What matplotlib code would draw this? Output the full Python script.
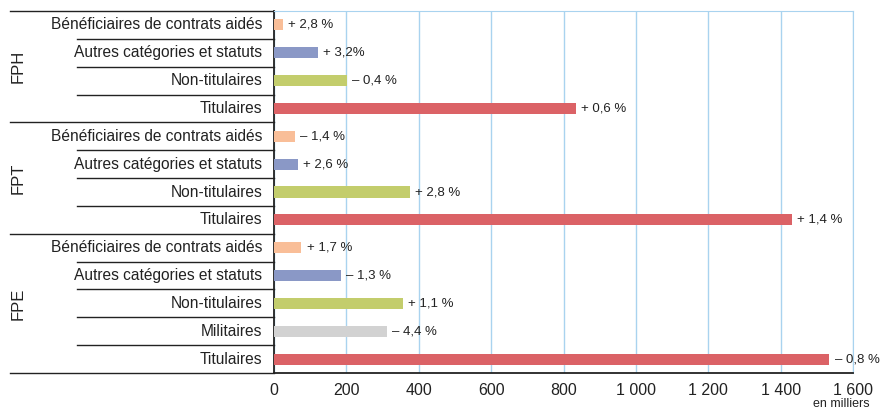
import matplotlib.pyplot as plt
import matplotlib.transforms as mtransforms

plt.rcParams['font.family'] = ['Liberation Sans Narrow', 'Liberation Sans', 'DejaVu Sans']

# data (en milliers), top to bottom
groups = ['FPH', 'FPT', 'FPE']
group_sizes = [4, 4, 5]
categories = ['Bénéficiaires de contrats aidés', 'Autres catégories et statuts', 'Non-titulaires', 'Titulaires',
              'Bénéficiaires de contrats aidés', 'Autres catégories et statuts', 'Non-titulaires', 'Titulaires',
              'Bénéficiaires de contrats aidés', 'Autres catégories et statuts', 'Non-titulaires', 'Militaires', 'Titulaires']
values = [25, 121, 201, 834,
          58, 66, 376, 1431,
          75, 185, 356, 312, 1535]
evolutions = ['+ 2,8 %', '+ 3,2%', '– 0,4 %', '+ 0,6 %',
              '– 1,4 %', '+ 2,6 %', '+ 2,8 %', '+ 1,4 %',
              '+ 1,7 %', '– 1,3 %', '+ 1,1 %', '– 4,4 %', '– 0,8 %']

colors_map = {'Bénéficiaires de contrats aidés': '#F9BE98', 'Autres catégories et statuts': '#8A98C6',
              'Non-titulaires': '#C3CD6C', 'Militaires': '#D2D2D2', 'Titulaires': '#DB6266'}
colors = [colors_map[c] for c in categories]

fig = plt.figure(figsize=(8.82, 4.11), dpi=100)
ax = fig.add_axes([274 / 882, 1 - 373 / 411, 579 / 882, 362 / 411])

y = list(range(len(values)))
ax.barh(y, values, height=0.4, color=colors, zorder=3)
ax.set_ylim(len(values) - 0.5, -0.5)
ax.set_xlim(0, 1600)
ax.set_xticks(range(0, 1601, 200))
ax.set_xticklabels(['0', '200', '400', '600', '800', '1 000', '1 200', '1 400', '1 600'], fontsize=11.5)
ax.tick_params(axis='x', length=0, pad=7, colors='#222222')
ax.set_yticks([])
ax.grid(axis='x', color='#A9D3EF', linewidth=1, zorder=0)

for side in ['top', 'right']:
    ax.spines[side].set_color('#A9D3EF')
for side in ['left', 'bottom']:
    ax.spines[side].set_color('#222222')
    ax.spines[side].set_linewidth(1.3)

for yi, v, lab in zip(y, values, evolutions):
    ax.text(v + 15, yi, lab, va='center', ha='left', fontsize=9.5, color='#222222')

# category labels and separators on the left
trans = mtransforms.blended_transform_factory(ax.transAxes, ax.transData)
x_short = (77 - 274) / 579
x_long = (10 - 274) / 579
for yi, cat in zip(y, categories):
    ax.text(-0.02, yi, cat, transform=trans, ha='right', va='center', fontsize=11.2, color='#222222')

start = 0
for g, n in zip(groups, group_sizes):
    ax.plot([x_long, 0], [start - 0.5, start - 0.5], transform=trans, color='#222222', lw=1, clip_on=False)
    for k in range(1, n):
        ax.plot([x_short, 0], [start + k - 0.5, start + k - 0.5], transform=trans, color='#222222', lw=1, clip_on=False)
    ax.text((18 - 274) / 579, start + (n - 1) / 2, g, transform=trans, rotation=90,
            ha='center', va='center', fontsize=12, color='#222222')
    start += n
ax.plot([x_long, 0], [start - 0.5, start - 0.5], transform=trans, color='#222222', lw=1, clip_on=False)

fig.text(870 / 882, 0.003, 'en milliers', ha='right', va='bottom', fontsize=9, color='#222222')

fig.savefig('out.png', dpi=100)
